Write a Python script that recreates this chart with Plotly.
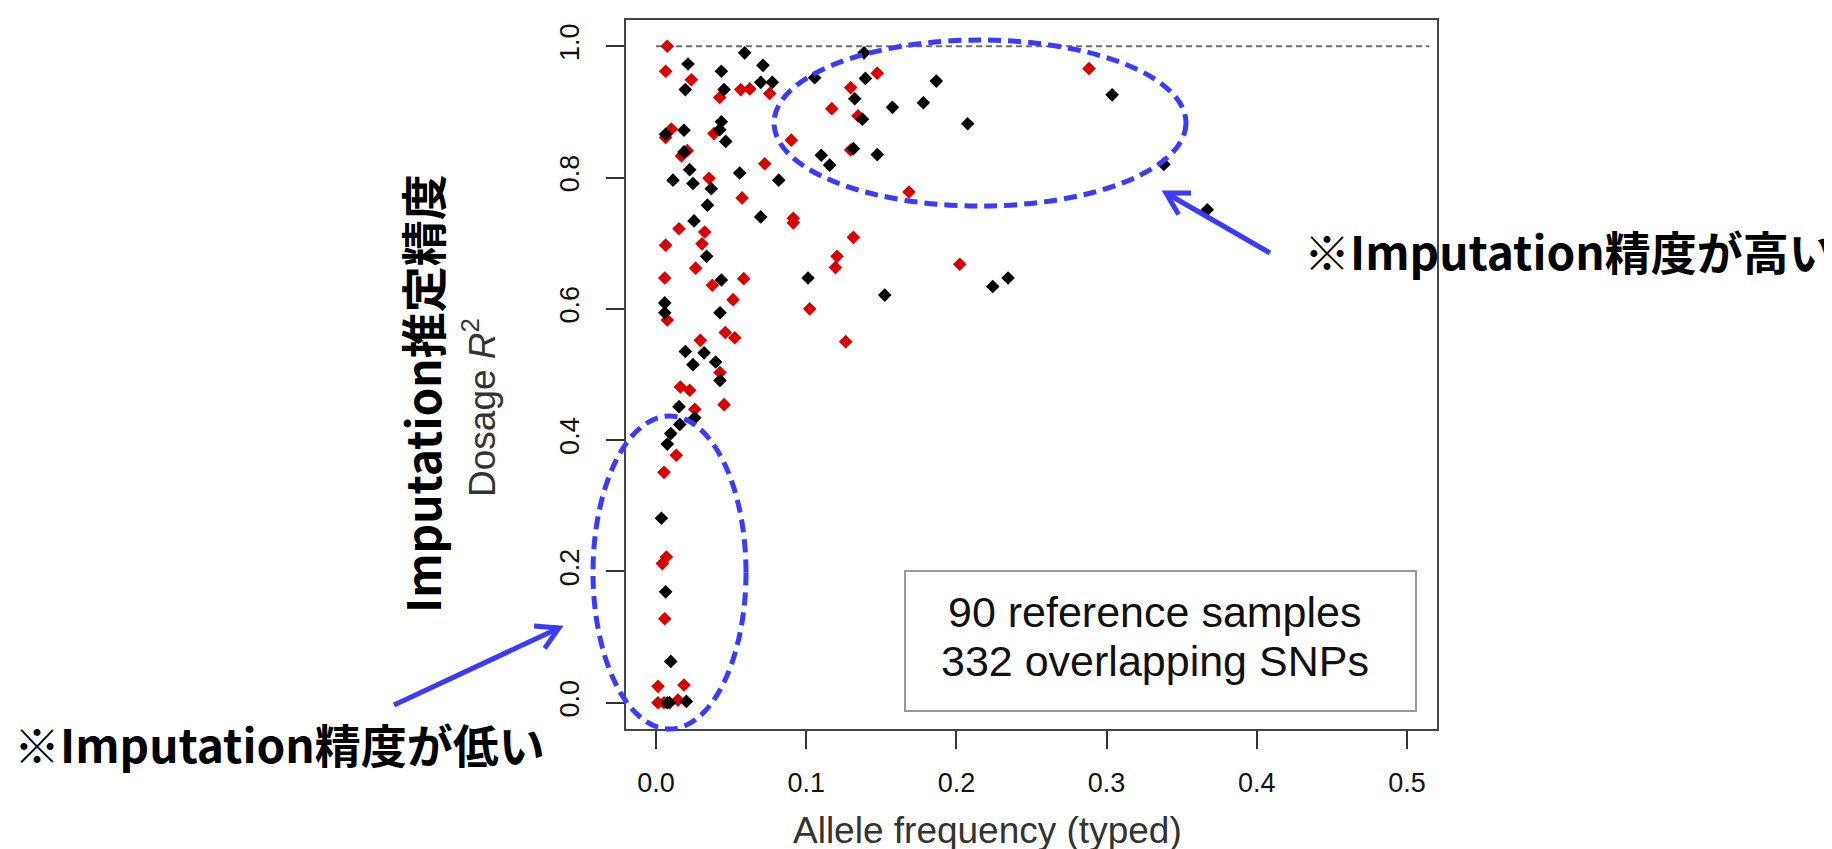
import math
import plotly.graph_objects as go

W, H = 1832, 849

# ---------------- data ----------------
red_x = [0.0075, 0.0064, 0.1473, 0.0235, 0.0564, 0.0624, 0.0757, 0.1296, 0.0424, 0.117,
         0.1345, 0.0102, 0.0064, 0.0386, 0.0901, 0.1296, 0.0208, 0.0169, 0.0724, 0.0353,
         0.1684, 0.0573, 0.0914, 0.0914, 0.0153, 0.0324, 0.0064, 0.0306, 0.1314, 0.1205,
         0.1194, 0.0264, 0.0058, 0.0375, 0.0584, 0.0513, 0.1023, 0.0075, 0.0461, 0.0524,
         0.1263, 0.0295, 0.0426, 0.0162, 0.0224, 0.0453, 0.0258, 0.0135, 0.0053, 0.0069,
         0.0042, 0.0058, 0.0013, 0.0186, 0.0013, 0.0146, 0.0053, 0.2883, 0.2022]
red_y = [1.000, 0.962, 0.959, 0.949, 0.934, 0.935, 0.928, 0.937, 0.922, 0.905,
         0.894, 0.874, 0.861, 0.867, 0.857, 0.842, 0.841, 0.833, 0.821, 0.799,
         0.778, 0.769, 0.738, 0.731, 0.722, 0.717, 0.697, 0.699, 0.709, 0.680,
         0.663, 0.662, 0.647, 0.636, 0.646, 0.614, 0.600, 0.583, 0.564, 0.556,
         0.550, 0.552, 0.503, 0.481, 0.476, 0.454, 0.447, 0.377, 0.351, 0.222,
         0.212, 0.128, 0.025, 0.027, 0.000, 0.004, 0.000, 0.966, 0.668]

black_x = [0.059, 0.1385, 0.0213, 0.0712, 0.0435, 0.1056, 0.1394, 0.0697, 0.0774, 0.0195,
           0.0453, 0.1323, 0.1574, 0.178, 0.1374, 0.0435, 0.0186, 0.0064, 0.0424, 0.0464,
           0.1314, 0.1473, 0.110, 0.1156, 0.0186, 0.0224, 0.0557, 0.0113, 0.0246, 0.0368,
           0.0817, 0.0342, 0.0697, 0.0253, 0.0337, 0.0435, 0.1012, 0.1523, 0.0058, 0.0058,
           0.0426, 0.0195, 0.032, 0.0246, 0.0397, 0.0426, 0.0153, 0.0258, 0.0158, 0.0098,
           0.0075, 0.0036, 0.0064, 0.0098, 0.0075, 0.009, 0.0202, 0.1866, 0.2075, 0.3037,
           0.3381, 0.367, 0.2344, 0.2242]
black_y = [0.990, 0.990, 0.973, 0.971, 0.962, 0.952, 0.951, 0.945, 0.945, 0.934,
           0.934, 0.920, 0.907, 0.914, 0.889, 0.885, 0.872, 0.866, 0.873, 0.855,
           0.844, 0.835, 0.834, 0.819, 0.839, 0.812, 0.807, 0.796, 0.791, 0.783,
           0.796, 0.758, 0.740, 0.734, 0.680, 0.644, 0.647, 0.621, 0.609, 0.594,
           0.594, 0.535, 0.533, 0.515, 0.519, 0.491, 0.451, 0.434, 0.424, 0.410,
           0.394, 0.281, 0.169, 0.063, 0.000, 0.000, 0.002, 0.947, 0.882, 0.926,
           0.820, 0.751, 0.647, 0.634]

x_ticks = [0.0, 0.1, 0.2, 0.3, 0.4, 0.5]
x_tick_labels = ["0.0", "0.1", "0.2", "0.3", "0.4", "0.5"]
y_ticks = [0.0, 0.2, 0.4, 0.6, 0.8, 1.0]
y_tick_labels = ["0.0", "0.2", "0.4", "0.6", "0.8", "1.0"]
ref_line_y = [1.0, 1.0]
ref_line_x = [0.0, 0.515]

x_title = "Allele frequency (typed)"
y_title_jp = "Imputation推定精度"
y_title_en = "Dosage <i>R</i><sup>2</sup>"
legend_lines = ["90 reference samples", "332 overlapping SNPs"]
note_high = "※Imputation精度が高い"
note_low = "※Imputation精度が低い"

# ---------------- layout helpers (pixel -> paper) ----------------
def PX(x):
    return x / W


def PY(y):
    return 1 - y / H


FRAME_L, FRAME_R, FRAME_T, FRAME_B = 618, 1429, 12, 721
BLUE = "#3b3bff"
RED = "#d90000"
SANS = "Liberation Sans, Arial, sans-serif"
CJK = "Noto Sans CJK JP, sans-serif"

fig = go.Figure()

fig.add_trace(go.Scatter(x=ref_line_x, y=ref_line_y, mode="lines",
                         line=dict(color="#6e6e6e", width=1.8, dash="6px,4px"),
                         hoverinfo="skip", showlegend=False))
fig.add_trace(go.Scatter(x=red_x, y=red_y, mode="markers",
                         marker=dict(symbol="diamond", size=10.5, color=RED, line=dict(width=0)),
                         showlegend=False))
fig.add_trace(go.Scatter(x=black_x, y=black_y, mode="markers",
                         marker=dict(symbol="diamond", size=10.5, color="#000000", line=dict(width=0)),
                         showlegend=False))

axis_common = dict(showgrid=False, zeroline=False, showline=True, linecolor="#444444",
                   linewidth=2, mirror=True, ticks="outside", ticklen=18, tickwidth=2,
                   tickcolor="#333333", tickfont=dict(family=SANS, size=27, color="#111111"))

fig.update_layout(
    width=W, height=H,
    margin=dict(l=0, r=0, t=0, b=0),
    paper_bgcolor="white", plot_bgcolor="white",
    xaxis=dict(domain=[PX(FRAME_L), PX(FRAME_R)], range=[-0.02, 0.52],
               tickvals=x_ticks, ticktext=x_tick_labels, ticklabelstandoff=11, **axis_common),
    yaxis=dict(domain=[PY(FRAME_B), PY(FRAME_T)], range=[-0.04, 1.04],
               tickvals=y_ticks, ticktext=y_tick_labels, tickangle=-90,
               ticklabelstandoff=16, **axis_common),
)


# ellipses (dashed blue)
def ellipse(x0, y0, x1, y1):
    fig.add_shape(type="circle", xref="paper", yref="paper",
                  x0=PX(x0), x1=PX(x1), y0=PY(y1), y1=PY(y0),
                  line=dict(color=BLUE, width=5, dash="13px,7px"))


ellipse(766, 32, 1178, 198)
ellipse(585, 408, 738, 721)


# arrows
def arrow(tx, ty, hx, hy, arm=25):
    fig.add_shape(type="line", xref="paper", yref="paper",
                  x0=PX(tx), y0=PY(ty), x1=PX(hx), y1=PY(hy),
                  line=dict(color=BLUE, width=5))
    ang = math.atan2(ty - hy, tx - hx)
    pts = []
    for d in (-0.52, 0.52):
        pts.append((hx + arm * math.cos(ang + d), hy + arm * math.sin(ang + d)))
    path = "M{},{} L{},{} L{},{}".format(PX(pts[0][0]), PY(pts[0][1]), PX(hx), PY(hy),
                                        PX(pts[1][0]), PY(pts[1][1]))
    fig.add_shape(type="path", xref="paper", yref="paper", path=path,
                  line=dict(color=BLUE, width=5))


arrow(1262, 245, 1158, 185)
arrow(386, 697, 551, 620)

# legend box
fig.add_shape(type="rect", xref="paper", yref="paper",
              x0=PX(897), x1=PX(1408), y0=PY(703), y1=PY(563),
              line=dict(color="#999999", width=2), fillcolor="white", layer="above")


def text(s, x, y, size, color="#111111", family=SANS, angle=0, weight="normal", anchor="center"):
    fig.add_annotation(text=s, x=PX(x), y=PY(y), xref="paper", yref="paper",
                       showarrow=False, xanchor=anchor, yanchor="middle",
                       textangle=angle,
                       font=dict(family=family, size=size, color=color, weight=weight))


text(legend_lines[0], 1147, 604, 43)
text(legend_lines[1], 1147, 653, 43)
text(x_title, 979, 822, 37, color="#333333")
text(y_title_en, 471, 400, 37, color="#333333", angle=-90)
text(y_title_jp, 413, 386, 46, color="#000000", family=CJK, angle=-90, weight="bold")
text(note_high, 1829, 242, 46, color="#000000", family=CJK, weight="bold", anchor="right")
text(note_low, 271, 735, 46, color="#000000", family=CJK, weight="bold")

fig.write_html("out.html")
